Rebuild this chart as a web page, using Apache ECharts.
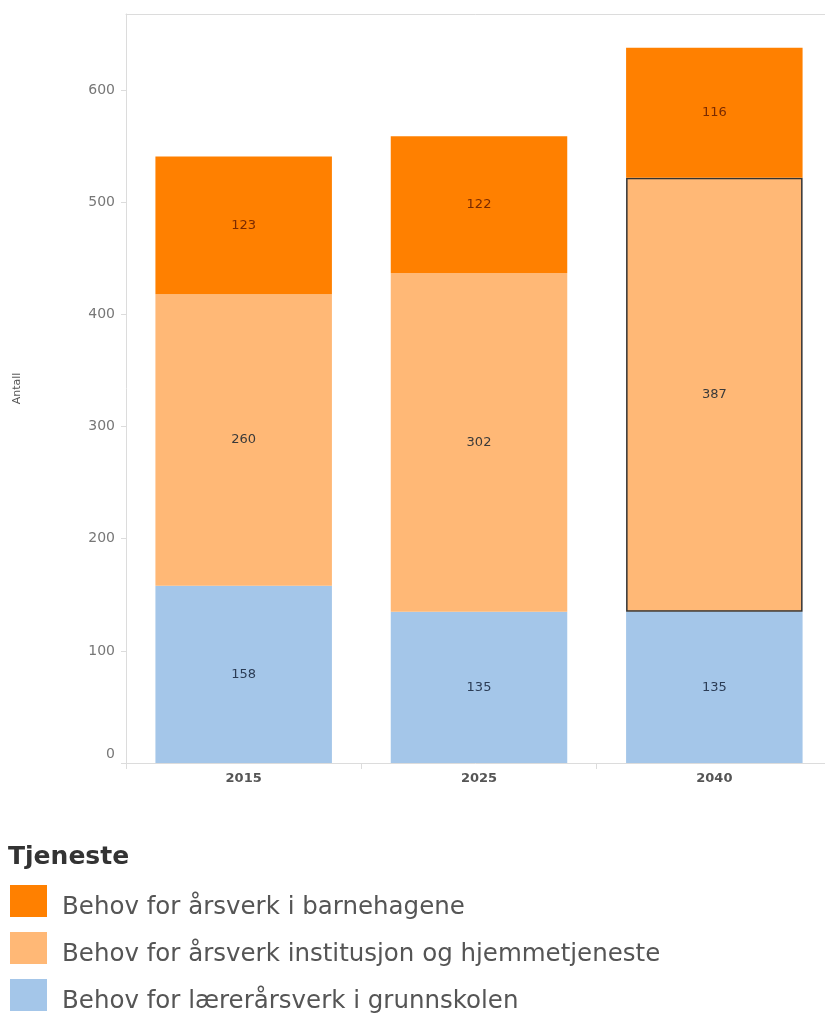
<!DOCTYPE html>
<html>
<head>
<meta charset="utf-8">
<script src="https://cdn.jsdelivr.net/npm/echarts@6/dist/echarts.min.js"></script>
<style>html,body{margin:0;padding:0;background:#fff;}#c{width:825px;height:1013px;}</style>
</head>
<body>
<div id="c"></div>
<script>
const categories = ['2015', '2025', '2040'];
const seriesNames = ['Behov for årsverk i barnehagene', 'Behov for årsverk institusjon og hjemmetjeneste', 'Behov for lærerårsverk i grunnskolen'];
const barnehage = [123, 122, 116];
const institusjon = [260, 302, 387];
const grunnskole = [158, 135, 135];
const yTicks = [0, 100, 200, 300, 400, 500, 600];

const colors = { barnehage: '#FF8000', institusjon: '#FFB876', grunnskole: '#A4C6E9' };
const font = 'DejaVu Sans, sans-serif';

const chart = echarts.init(document.getElementById('c'), null, { renderer: 'canvas' });

function lbl(color) {
  return { show: true, position: 'inside', color: color, fontSize: 13, fontFamily: font };
}

const option = {
  animation: false,
  title: {
    text: 'Tjeneste', left: 3, top: 840,
    textStyle: { fontFamily: font, fontSize: 25, fontWeight: 'bold', color: '#333' }
  },
  legend: {
    orient: 'vertical', left: 10, top: 885, height: 200, padding: 0,
    itemWidth: 37, itemHeight: 32, itemGap: 11.5,
    icon: 'rect',
    data: [seriesNames[0], seriesNames[1], seriesNames[2]],
    formatter: '{a|{name}}',
    textStyle: {
      fontFamily: font, fontSize: 24, color: '#555',
      rich: { a: { fontFamily: font, fontSize: 24.5, color: '#555', padding: [7, 0, -7, 10] } }
    },
    selectedMode: false
  },
  grid: { left: 126, top: 14, width: 706, bottom: 250, containLabel: false, outerBoundsMode: 'none' },
  xAxis: [{
    type: 'category', data: categories, position: 'bottom',
    axisLine: { lineStyle: { color: '#dcdcdc' } },
    axisTick: { show: true, length: 6, lineStyle: { color: '#dcdcdc' } },
    axisLabel: { fontFamily: font, fontSize: 13, fontWeight: 'bold', color: '#555', margin: 9 }
  }, {
    type: 'category', data: categories, position: 'top',
    axisLine: { show: true, lineStyle: { color: '#dcdcdc' } },
    axisTick: { show: false }, axisLabel: { show: false }
  }],
  yAxis: {
    type: 'value', min: 0, max: 668, interval: 100,
    name: 'Antall', nameLocation: 'middle', nameGap: 103, nameRotate: 90,
    nameTextStyle: { fontFamily: font, fontSize: 11, color: '#555' },
    axisLine: { show: true, lineStyle: { color: '#dcdcdc' } },
    axisTick: { show: true, length: 5, lineStyle: { color: '#dcdcdc' } },
    axisLabel: {
      fontFamily: font, fontSize: 14, color: '#777', margin: 11, showMaxLabel: false,
      formatter: v => v === 0 ? '{z|0}' : (yTicks.indexOf(v) >= 0 ? String(v) : ''),
      rich: { z: { fontFamily: font, fontSize: 14, color: '#777', padding: [0, 0, 18, 0] } }
    },
    splitLine: { show: false }
  },
  series: [
    {
      name: seriesNames[2], type: 'bar', stack: 'a', barWidth: '75%',
      itemStyle: { color: colors.grunnskole },
      label: lbl('#2b3c55'),
      data: grunnskole
    },
    {
      name: seriesNames[1], type: 'bar', stack: 'a',
      itemStyle: { color: colors.institusjon },
      label: lbl('#3a3a3a'),
      data: institusjon.map((v, i) => i === 2 ? { value: v, itemStyle: { borderColor: '#333', borderWidth: 1.5 } } : v)
    },
    {
      name: seriesNames[0], type: 'bar', stack: 'a',
      itemStyle: { color: colors.barnehage },
      label: lbl('#7a2a00'),
      data: barnehage
    }
  ]
};
chart.setOption(option);
</script>
</body>
</html>
